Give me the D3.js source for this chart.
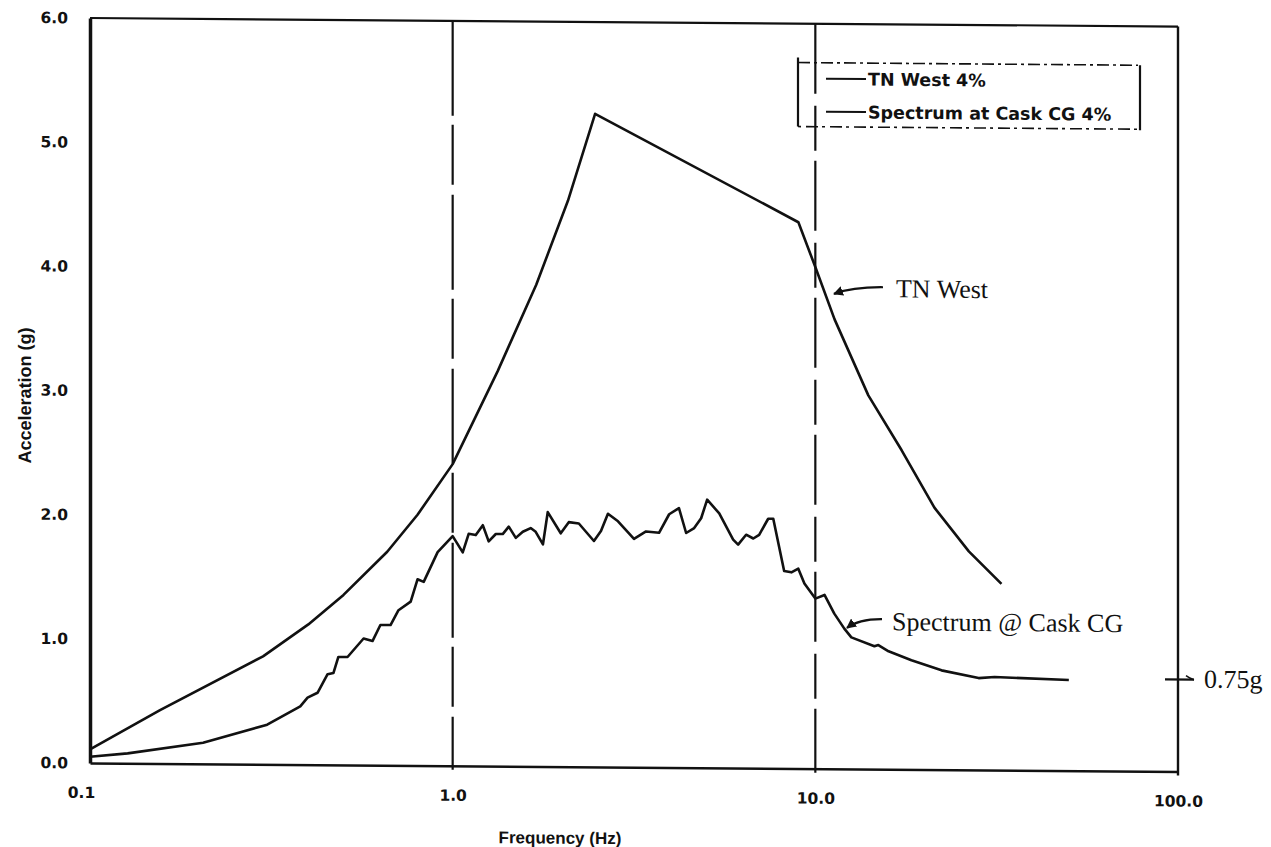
<!DOCTYPE html>
<html>
<head>
<meta charset="utf-8">
<script src="https://cdn.jsdelivr.net/npm/d3@7/dist/d3.min.js"></script>
<style>
  html, body { margin: 0; padding: 0; background: #fff; }
  svg { display: block; }
</style>
</head>
<body>
<svg id="chart" width="1271" height="847"></svg>
<script>
// ---- data ----
const xTicks = [0.1, 1, 10, 100];
const xTickLabels = ["0.1", "1.0", "10.0", "100.0"];
const yTicks = [0, 1, 2, 3, 4, 5, 6];
const yTickLabels = ["0.0", "1.0", "2.0", "3.0", "4.0", "5.0", "6.0"];
const gridFreqs = [1, 10];

const freqTN = [0.1, 0.156, 0.3, 0.4, 0.5, 0.66, 0.8, 1.0, 1.33, 1.7, 2.08, 2.47, 8.98, 10.0, 11.3, 14.0, 17.3, 21.3, 26.5, 32.6];
const accTN  = [0.11, 0.43, 0.87, 1.13, 1.37, 1.72, 2.02, 2.43, 3.18, 3.88, 4.56, 5.26, 4.40, 4.04, 3.62, 3.01, 2.57, 2.11, 1.76, 1.50];

const freqCG = [0.1, 0.127, 0.205, 0.308, 0.38, 0.398, 0.424, 0.452, 0.469, 0.484, 0.513, 0.568, 0.601, 0.632, 0.674, 0.709, 0.766, 0.80, 0.832, 0.909,
  1.0, 1.066, 1.107, 1.158, 1.211, 1.257, 1.315, 1.374, 1.428, 1.493, 1.561, 1.641, 1.694, 1.774, 1.829, 1.986, 2.09, 2.228, 2.452, 2.564,
  2.68, 2.857, 3.162, 3.413, 3.707, 3.953, 4.207, 4.403, 4.634, 4.843, 5.032, 5.433, 5.935, 6.125, 6.443, 6.745, 7.0, 7.413, 7.656, 8.204,
  8.59, 8.975, 9.33, 10.0, 10.6, 11.28, 12.02, 12.57, 14.55, 14.92, 15.92, 18.41, 22.28, 28.2, 31.2, 50.0];
const accCG  = [0.05, 0.08, 0.17, 0.32, 0.47, 0.54, 0.58, 0.73, 0.74, 0.87, 0.87, 1.02, 1.00, 1.13, 1.13, 1.25, 1.32, 1.50, 1.48, 1.72,
  1.85, 1.72, 1.87, 1.86, 1.94, 1.81, 1.87, 1.87, 1.93, 1.84, 1.89, 1.92, 1.89, 1.79, 2.05, 1.88, 1.97, 1.96, 1.82, 1.90,
  2.04, 1.98, 1.84, 1.90, 1.89, 2.04, 2.09, 1.89, 1.93, 2.01, 2.16, 2.05, 1.84, 1.80, 1.88, 1.85, 1.88, 2.01, 2.01, 1.59,
  1.58, 1.61, 1.49, 1.37, 1.40, 1.25, 1.13, 1.06, 0.99, 1.00, 0.95, 0.88, 0.80, 0.74, 0.75, 0.73];

const legendLabels = ["TN West 4%", "Spectrum at Cask CG 4%"];
const annotTN = "TN West";
const annotCG = "Spectrum @ Cask CG";
const annotZPA = "0.75g";

// ---- layout ----
const L = 90, R = 1178, T = 18, B = 763;
const svg = d3.select("#chart");
svg.append("rect").attr("width", 1271).attr("height", 847).attr("fill", "#fff");

// scanned page is slightly skewed
const g = svg.append("g").attr("transform", `translate(${L},0) skewY(0.45) translate(${-L},0)`);

const x = d3.scaleLog().domain([0.1, 100]).range([L, R]);
const y = d3.scaleLinear().domain([0, 6]).range([B, T]);

const ink = "#111";
const sans = "'DejaVu Sans', Arial, sans-serif";
const arial = "'Liberation Sans', Arial, sans-serif";
const serif = "'Liberation Serif', 'Times New Roman', serif";

// frame
g.append("line").attr("x1", L).attr("x2", R).attr("y1", T).attr("y2", T).attr("stroke", ink).attr("stroke-width", 2.2);
g.append("line").attr("x1", R).attr("x2", R).attr("y1", T).attr("y2", B + 4).attr("stroke", ink).attr("stroke-width", 2.4);

// vertical grid lines at 1 and 10 Hz (dashed)
g.selectAll(".grid").data(gridFreqs).join("line")
  .attr("x1", d => x(d)).attr("x2", d => x(d))
  .attr("y1", T).attr("y2", B + 4)
  .attr("stroke", ink).attr("stroke-width", 2.2)
  .attr("stroke-dasharray", (d, i) => i === 0 ? "95,9,60,10" : "70,12,45,10");

// x axis
const xAxis = d3.axisBottom(x).tickValues(xTicks).tickFormat((d, i) => xTickLabels[i]).tickSize(0).tickPadding(24);
const gx = g.append("g").attr("transform", `translate(0,${B})`).call(xAxis);
gx.select(".domain").attr("stroke", ink).attr("stroke-width", 2.4);
gx.selectAll("text").attr("font-family", sans).attr("font-weight", "bold").attr("font-size", 15.5).attr("fill", ink)
  .attr("dx", (d, i) => i === 0 ? -9 : 0);

// y axis
const yAxis = d3.axisLeft(y).tickValues(yTicks).tickFormat((d, i) => yTickLabels[i]).tickSize(0).tickPadding(22);
const gy = g.append("g").attr("transform", `translate(${L},0)`).call(yAxis);
gy.select(".domain").attr("stroke", ink).attr("stroke-width", 3.5);
gy.selectAll("text").attr("font-family", sans).attr("font-weight", "bold").attr("font-size", 15.5).attr("fill", ink);

// axis titles
g.append("text").attr("transform", `translate(31,396) rotate(-90)`).attr("text-anchor", "middle")
  .attr("font-family", arial).attr("font-weight", "bold").attr("font-size", 18).attr("fill", ink)
  .text("Acceleration (g)");
g.append("text").attr("x", 560).attr("y", 840).attr("text-anchor", "middle")
  .attr("font-family", arial).attr("font-weight", "bold").attr("font-size", 17).attr("fill", ink)
  .text("Frequency (Hz)");

// curves
const line = d3.line().x(d => x(d[0])).y(d => y(d[1]));
const tn = freqTN.map((f, i) => [f, accTN[i]]);
const cg = freqCG.map((f, i) => [f, accCG[i]]);
g.append("path").datum(tn).attr("d", line).attr("fill", "none").attr("stroke", ink).attr("stroke-width", 2.6).attr("stroke-linejoin", "round");
g.append("path").datum(cg).attr("d", line).attr("fill", "none").attr("stroke", ink).attr("stroke-width", 2.6).attr("stroke-linejoin", "round");

// legend
const lg = g.append("g");
lg.append("line").attr("x1", 798).attr("x2", 798).attr("y1", 52).attr("y2", 121).attr("stroke", ink).attr("stroke-width", 2.2);
lg.append("line").attr("x1", 1140).attr("x2", 1140).attr("y1", 57).attr("y2", 122).attr("stroke", ink).attr("stroke-width", 2.2);
lg.append("line").attr("x1", 798).attr("x2", 1138).attr("y1", 57).attr("y2", 57).attr("stroke", ink).attr("stroke-width", 1.6).attr("stroke-dasharray", "12,4,3,4");
lg.append("line").attr("x1", 798).attr("x2", 1138).attr("y1", 121).attr("y2", 121).attr("stroke", ink).attr("stroke-width", 1.6).attr("stroke-dasharray", "3,5,12,4");
legendLabels.forEach((lab, i) => {
  const yy = 73 + i * 33;
  lg.append("line").attr("x1", 826).attr("x2", 866).attr("y1", yy).attr("y2", yy).attr("stroke", ink).attr("stroke-width", 2);
  lg.append("text").attr("x", 868).attr("y", yy + 6.5)
    .attr("font-family", sans).attr("font-weight", "bold").attr("font-size", 17.5).attr("fill", ink)
    .text(lab);
});

// arrow marker
svg.append("defs").append("marker").attr("id", "ah").attr("viewBox", "0 0 10 10")
  .attr("refX", 9).attr("refY", 5).attr("markerWidth", 4.5).attr("markerHeight", 4.5)
  .attr("orient", "auto-start-reverse").attr("markerUnits", "strokeWidth")
  .append("path").attr("d", "M0,0 L10,5 L0,10 z").attr("fill", ink);

// annotations
g.append("path").attr("d", "M883,281 C865,281 850,282 834,288").attr("fill", "none").attr("stroke", ink).attr("stroke-width", 2.2).attr("marker-end", "url(#ah)");
g.append("text").attr("x", 896).attr("y", 291).attr("font-family", serif).attr("font-size", 26).attr("fill", ink).text(annotTN);

g.append("path").attr("d", "M882,613 C868,613 856,615 847,622").attr("fill", "none").attr("stroke", ink).attr("stroke-width", 2.2).attr("marker-end", "url(#ah)");
g.append("text").attr("x", 892).attr("y", 624).attr("font-family", serif).attr("font-size", 26).attr("fill", ink).text(annotCG);

g.append("path").attr("d", "M1165,671 L1194,671").attr("stroke", ink).attr("stroke-width", 2.2);
g.append("path").attr("d", "M1186,667 Q1190,670 1194,671").attr("fill", "none").attr("stroke", ink).attr("stroke-width", 1.5);
g.append("text").attr("x", 1204).attr("y", 679).attr("font-family", serif).attr("font-size", 26).attr("fill", ink).text(annotZPA);
</script>
</body>
</html>
